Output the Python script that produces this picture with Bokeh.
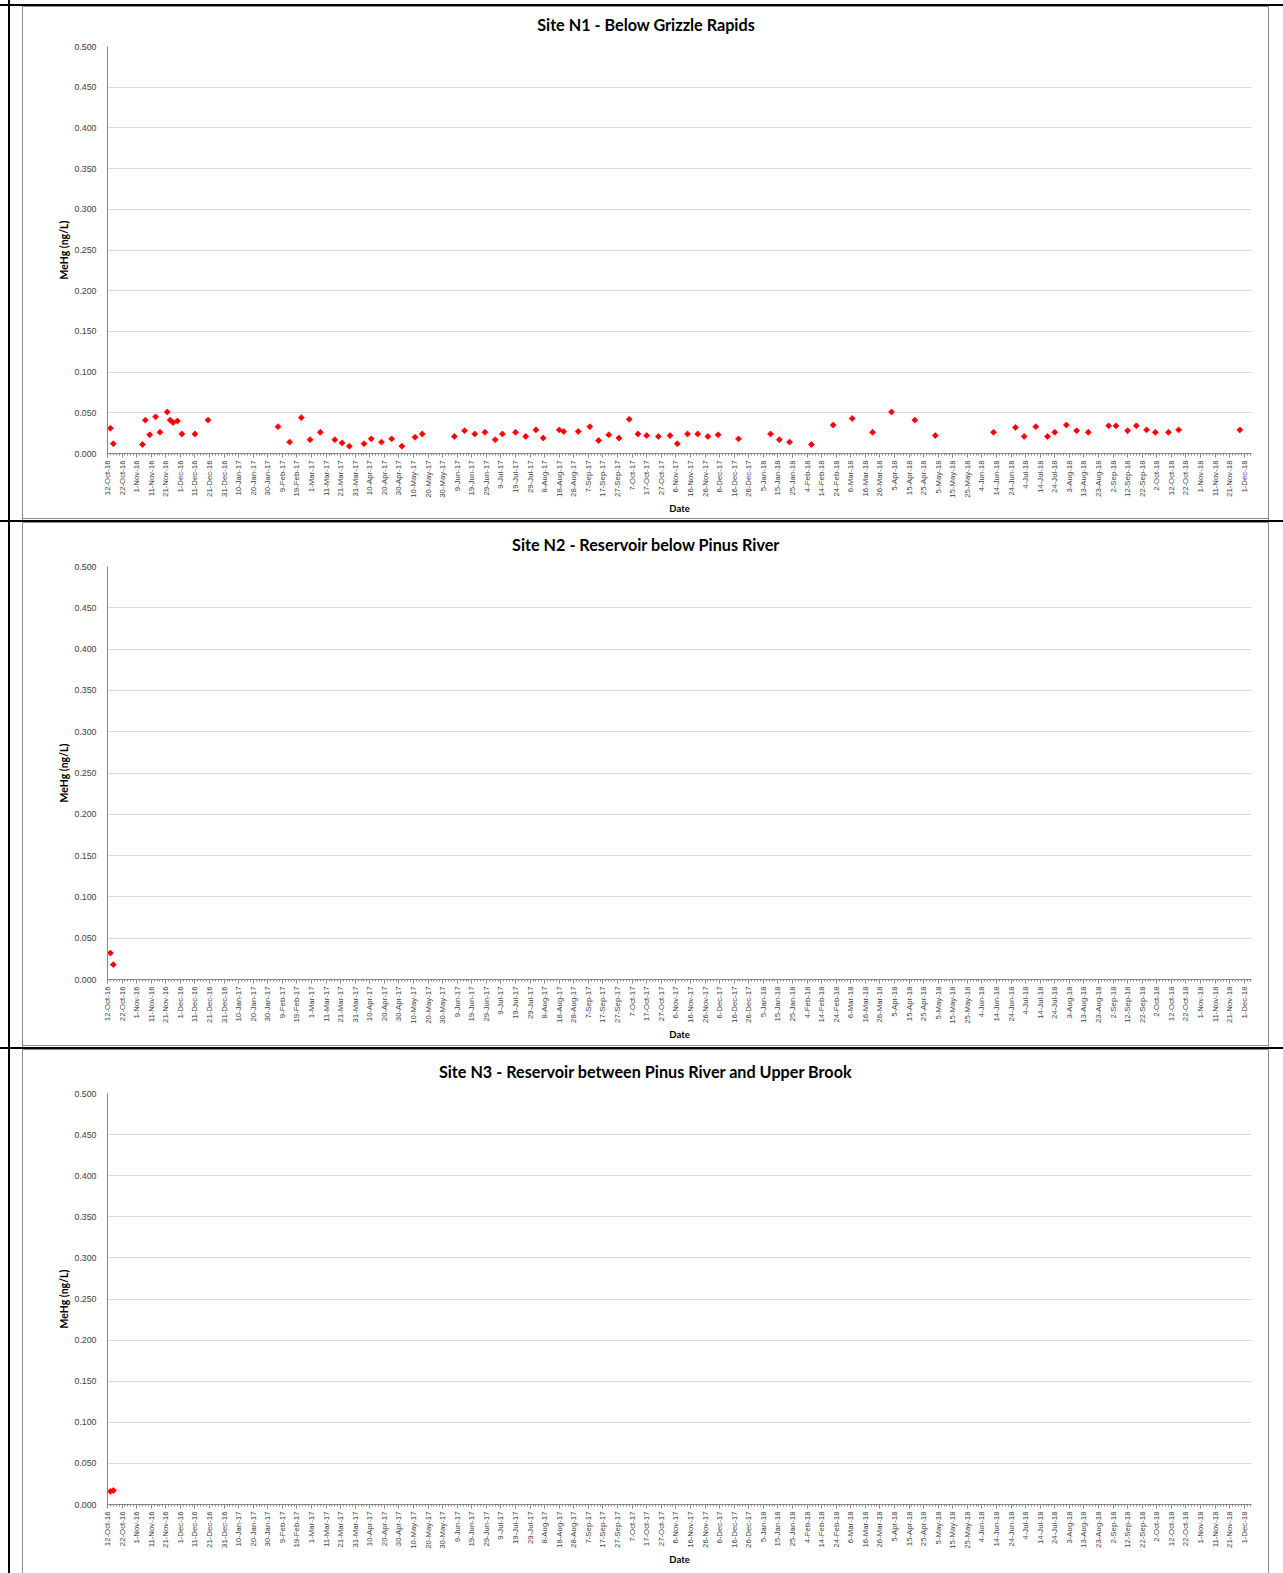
import math
import datetime as dt
from bokeh.plotting import figure
from bokeh.layouts import column
from bokeh.models import Range1d, FixedTicker, NumeralTickFormatter, ColumnDataSource
from bokeh.embed import file_html
from bokeh.resources import INLINE

# ---------------- data ----------------
titles = ["Site N1 -  Below Grizzle Rapids",
          "Site N2 - Reservoir below Pinus River",
          "Site N3 - Reservoir between Pinus River and Upper Brook"]

n1_dates = ["2016-10-14", "2016-10-16", "2016-11-05", "2016-11-07", "2016-11-10", "2016-11-14",
            "2016-11-17", "2016-11-22", "2016-11-24", "2016-11-26", "2016-11-29", "2016-12-02",
            "2016-12-11", "2016-12-20", "2017-02-06", "2017-02-14", "2017-02-22", "2017-02-28",
            "2017-03-07", "2017-03-17", "2017-03-22", "2017-03-27", "2017-04-06", "2017-04-11",
            "2017-04-18", "2017-04-25", "2017-05-02", "2017-05-11", "2017-05-16", "2017-06-07",
            "2017-06-14", "2017-06-21", "2017-06-28", "2017-07-05", "2017-07-10", "2017-07-19",
            "2017-07-26", "2017-08-02", "2017-08-07", "2017-08-18", "2017-08-21", "2017-08-31",
            "2017-09-08", "2017-09-14", "2017-09-21", "2017-09-28", "2017-10-05", "2017-10-11",
            "2017-10-17", "2017-10-25", "2017-11-02", "2017-11-07", "2017-11-14", "2017-11-21",
            "2017-11-28", "2017-12-05", "2017-12-19", "2018-01-10", "2018-01-16", "2018-01-23",
            "2018-02-07", "2018-02-22", "2018-03-07", "2018-03-21", "2018-04-03", "2018-04-19",
            "2018-05-03", "2018-06-12", "2018-06-27", "2018-07-03", "2018-07-11", "2018-07-19",
            "2018-07-24", "2018-08-01", "2018-08-08", "2018-08-16", "2018-08-30", "2018-09-04",
            "2018-09-12", "2018-09-18", "2018-09-25", "2018-10-01", "2018-10-10", "2018-10-17",
            "2018-11-28"]
n1_mehg = [0.031, 0.012, 0.011, 0.041, 0.023, 0.045,
           0.026, 0.051, 0.041, 0.038, 0.040, 0.024,
           0.024, 0.041, 0.033, 0.014, 0.044, 0.017,
           0.026, 0.017, 0.013, 0.009, 0.012, 0.018,
           0.014, 0.018, 0.009, 0.020, 0.024, 0.021,
           0.028, 0.024, 0.026, 0.017, 0.024, 0.026,
           0.021, 0.029, 0.019, 0.029, 0.027, 0.027,
           0.033, 0.016, 0.023, 0.019, 0.042, 0.024,
           0.022, 0.021, 0.022, 0.012, 0.024, 0.024,
           0.021, 0.023, 0.018, 0.024, 0.017, 0.014,
           0.011, 0.035, 0.043, 0.026, 0.051, 0.041,
           0.022, 0.026, 0.032, 0.021, 0.033, 0.021,
           0.026, 0.035, 0.028, 0.026, 0.034, 0.034,
           0.028, 0.034, 0.029, 0.026, 0.026, 0.029,
           0.029]

n2_dates = ["2016-10-14", "2016-10-16"]
n2_mehg = [0.032, 0.018]

n3_dates = ["2016-10-14", "2016-10-16"]
n3_mehg = [0.016, 0.017]

y_ticks = [0.0, 0.05, 0.1, 0.15, 0.2, 0.25, 0.3, 0.35, 0.4, 0.45, 0.5]
x_start = "2016-10-12"
x_end = "2018-12-06"
tick_step_days = 10
last_tick = "2018-12-01"

# ---------------- helpers ----------------
EPOCH = dt.datetime(1970, 1, 1)
DAY = 86400000.0


def ms(s):
    return (dt.datetime.strptime(s, "%Y-%m-%d") - EPOCH).total_seconds() * 1000.0


d0 = dt.datetime.strptime(x_start, "%Y-%m-%d")
dlast = dt.datetime.strptime(last_tick, "%Y-%m-%d")
tick_dates = []
d = d0
while d <= dlast:
    tick_dates.append(d)
    d += dt.timedelta(days=tick_step_days)
tick_ms = [(t - EPOCH).total_seconds() * 1000.0 for t in tick_dates]
tick_labels = {t: f"{dd.day}-{dd.strftime('%b-%y')}" for t, dd in zip(tick_ms, tick_dates)}
minor_ms = [ms(x_start) + k * 2 * DAY for k in range(0, 394)]

W = 1283
TXT = "#404040"
AX = "#868686"
GREY = "#8c8c8c"
FONT = "Liberation Sans"
TFONT = "Lato"


def bg_styles(height, black_top, grey_top, grey_bottom):
    layers = []

    def bar(x, y, w, h, c):
        layers.append(f"linear-gradient({c},{c}) {x}px {y}px / {w}px {h}px no-repeat")

    bar(0, black_top, W, 2, "#000000")
    bar(8, 0, 2, height, "#000000")
    bar(22, grey_top, 1, height - grey_top, GREY)
    bar(1268, grey_top, 1, height - grey_top, GREY)
    bar(22, grey_top, 1247, 1, GREY)
    if grey_bottom is not None:
        bar(22, grey_bottom, 1247, 1, GREY)
    return {"background": ", ".join(layers) + ", #ffffff"}


def make_panel(title, title_left, dates, vals, height, btop, bbottom, black_top, grey_top, grey_bottom):
    p = figure(width=W, height=height, output_backend="svg", toolbar_location=None,
               x_range=Range1d(ms(x_start), ms(x_end)), y_range=Range1d(0, 0.5),
               min_border_left=107, min_border_right=32,
               min_border_top=btop, min_border_bottom=bbottom,
               background_fill_color="white", border_fill_color=None)
    p.styles = bg_styles(height, black_top, grey_top, grey_bottom)
    p.outline_line_color = None
    p.title.text = title
    p.title.align = "left"
    p.title.offset = title_left - 107
    p.title.text_font = TFONT
    p.title.text_font_style = "bold"
    p.title.text_font_size = "16.2px"
    p.title.text_color = "black"
    p.title.standoff = 25

    src = ColumnDataSource(dict(x=[ms(s) for s in dates], y=vals))
    p.scatter("x", "y", source=src, marker="square", angle=math.pi / 4, size=4.2,
              fill_color="#ff0000", line_color="#ff0000", line_width=0.8)

    # y axis
    p.yaxis.ticker = FixedTicker(ticks=y_ticks)
    p.yaxis.formatter = NumeralTickFormatter(format="0.000")
    p.yaxis.axis_label = "MeHg (ng/L)"
    p.yaxis.axis_label_text_font = TFONT
    p.yaxis.axis_label_text_font_style = "bold"
    p.yaxis.axis_label_text_font_size = "10.5px"
    p.yaxis.axis_label_text_color = "black"
    p.yaxis.axis_label_standoff = 1
    p.yaxis.major_label_text_font = FONT
    p.yaxis.major_label_text_font_size = "8.8px"
    p.yaxis.major_label_text_color = TXT
    p.yaxis.major_label_standoff = 5
    p.yaxis.major_tick_line_color = None
    p.yaxis.minor_tick_line_color = None
    p.yaxis.axis_line_color = AX

    # x axis
    p.xaxis.ticker = FixedTicker(ticks=tick_ms, minor_ticks=minor_ms)
    p.xaxis.major_label_overrides = tick_labels
    p.xaxis.major_label_orientation = math.pi / 2
    p.xaxis.major_label_text_font = FONT
    p.xaxis.major_label_text_font_size = "7.8px"
    p.xaxis.major_label_text_color = TXT
    p.xaxis.major_label_standoff = 3
    p.xaxis.major_tick_in = 0
    p.xaxis.major_tick_out = 4
    p.xaxis.minor_tick_in = 0
    p.xaxis.minor_tick_out = 2
    p.xaxis.major_tick_line_color = AX
    p.xaxis.minor_tick_line_color = AX
    p.xaxis.axis_line_color = AX
    p.xaxis.axis_label = "Date"
    p.xaxis.axis_label_text_font = TFONT
    p.xaxis.axis_label_text_font_style = "bold"
    p.xaxis.axis_label_text_font_size = "9.5px"
    p.xaxis.axis_label_text_color = "black"
    p.xaxis.axis_label_standoff = 2

    p.xgrid.grid_line_color = None
    p.ygrid.grid_line_color = "#d9d9d9"
    p.ygrid.grid_line_width = 1
    return p


p1 = make_panel(titles[0], 536.7, n1_dates, n1_mehg, 520, 46, 67, 4, 6, 518)
p2 = make_panel(titles[1], 511.6, n2_dates, n2_mehg, 527, 45, 68, 0, 2, 525)
p3 = make_panel(titles[2], 438.4, n3_dates, n3_mehg, 526, 44, 69, 0, 2, None)

layout = column(p1, p2, p3, spacing=0)
open("out.html", "w").write(file_html(layout, INLINE))
